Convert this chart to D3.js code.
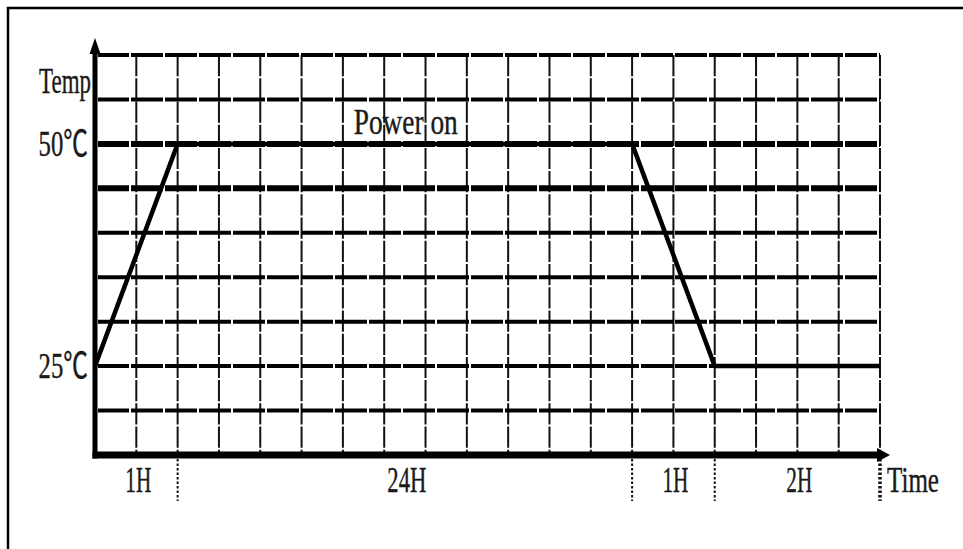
<!DOCTYPE html>
<html>
<head>
<meta charset="utf-8">
<script src="https://cdn.jsdelivr.net/npm/d3@7"></script>
<style>
  body { margin: 0; background: #fff; }
  text { font-family: "Liberation Serif", "Noto Sans CJK SC", serif; fill: #1a1a1a; stroke: #1a1a1a; stroke-width: 0.4; }
</style>
</head>
<body>
<div id="chart"></div>
<script>
'use strict';

// profile: hours -> temperature
var times = [0, 1, 25, 26, 28];
var temps = [25, 50, 50, 25, 25];
// grid column where each time breakpoint sits (time axis is not to scale)
var timeCols = [0, 2, 13, 15, 19];
var phaseLabels = ["1H", "24H", "1H", "2H"];
var tempTicks = [25, 50];
var tempTickLabels = ["25℃", "50℃"];
var tempGrid = [20, 25, 30, 35, 40, 45, 50, 55, 60];
var powerLabel = { text: "Power on", t: 10.3, temp: 50 };

var width = 963, height = 549;
var margin = { top: 55, right: 83, bottom: 94, left: 95 };
var nCols = 19;
var charW = 13;

var svg = d3.select("#chart").append("svg")
  .attr("width", width).attr("height", height);

// outer frame (cut off on right/bottom like the scan)
svg.append("rect")
  .attr("x", 8).attr("y", 8).attr("width", width + 20).attr("height", height + 20)
  .attr("fill", "none").attr("stroke", "#000").attr("stroke-width", 2.5);

var colX = d3.scaleLinear().domain([0, nCols]).range([margin.left, width - margin.right]);
var x = d3.scaleLinear().domain(times).range(timeCols.map(colX));
var y = d3.scaleLinear().domain([15, 60]).range([height - margin.bottom, margin.top]);

var rowH = y(15) - y(20);
var x0 = colX(0), x1 = colX(nCols), yTop = y(60), yBot = y(15);

// vertical grid lines, broken at row midpoints
svg.append("g").selectAll("line")
  .data(d3.range(1, nCols + 1)).enter().append("line")
  .attr("x1", colX).attr("x2", colX)
  .attr("y1", yTop).attr("y2", yBot)
  .attr("stroke", "#111").attr("stroke-width", 2)
  .attr("stroke-dasharray", (rowH / 2 - 1) + "," + 2);

// horizontal grid lines, dashed thick
svg.append("g").selectAll("line")
  .data(tempGrid).enter().append("line")
  .attr("x1", x0 + 3).attr("x2", x1)
  .attr("y1", y).attr("y2", y)
  .attr("stroke", "#000")
  .attr("stroke-width", function(d) { return (d === 45 || d === 50) ? 6 : 4; })
  .attr("stroke-dasharray", "32,2")
  .attr("stroke-dashoffset", 1);

// profile line
var line = d3.line()
  .x(function(d, i) { return x(times[i]); })
  .y(function(d) { return y(d); });

svg.append("path")
  .datum(temps)
  .attr("d", line)
  .attr("fill", "none").attr("stroke", "#000").attr("stroke-width", 4.5)
  .attr("stroke-linejoin", "round");

// axes
svg.append("line")
  .attr("x1", x0).attr("x2", x0).attr("y1", yBot + 3.5).attr("y2", yTop - 8)
  .attr("stroke", "#000").attr("stroke-width", 5);
svg.append("path")
  .attr("d", "M" + x0 + "," + (yTop - 17) + "L" + (x0 - 5.5) + "," + (yTop - 1) + "L" + (x0 + 5.5) + "," + (yTop - 1) + "Z")
  .attr("fill", "#000");

svg.append("line")
  .attr("x1", x0 - 2.5).attr("x2", x1 - 2).attr("y1", yBot).attr("y2", yBot)
  .attr("stroke", "#000").attr("stroke-width", 7);
svg.append("path")
  .attr("d", "M" + (x1 + 10) + "," + yBot + "L" + (x1 - 3) + "," + (yBot - 7) + "L" + (x1 - 3) + "," + (yBot + 7) + "Z")
  .attr("fill", "#000");

// phase boundary markers
svg.append("g").selectAll("line")
  .data(times.slice(1)).enter().append("line")
  .attr("x1", x).attr("x2", x)
  .attr("y1", yBot + 4).attr("y2", yBot + 46)
  .attr("stroke", "#111")
  .attr("stroke-width", function(d, i) { return i === times.length - 2 ? 3.5 : 2; })
  .attr("stroke-dasharray", "2.5,2");

// narrow monospace-looking labels: force each glyph cell to charW
function label(g, txt, tx, ty, anchor) {
  var cells = Array.from(txt).reduce(function(n, c) { return n + (c === "℃" ? 1.8 : 1); }, 0);
  g.append("text")
    .attr("x", tx).attr("y", ty)
    .attr("text-anchor", anchor)
    .attr("font-size", 35)
    .attr("textLength", cells * charW)
    .attr("lengthAdjust", "spacingAndGlyphs")
    .text(txt);
}

// phase duration labels
phaseLabels.forEach(function(t, i) {
  label(svg, t, (x(times[i]) + x(times[i + 1])) / 2 + 2, yBot + 37, "middle");
});

label(svg, "Time", x1 + 7, yBot + 37, "start");
label(svg, "Temp", x0 - 4, yTop + 38, "end");

tempTicks.forEach(function(t, i) {
  label(svg, tempTickLabels[i], x0 - 7, y(t) + 12, "end");
});

label(svg, powerLabel.text, x(powerLabel.t), y(powerLabel.temp) - 10, "start");
</script>
</body>
</html>
